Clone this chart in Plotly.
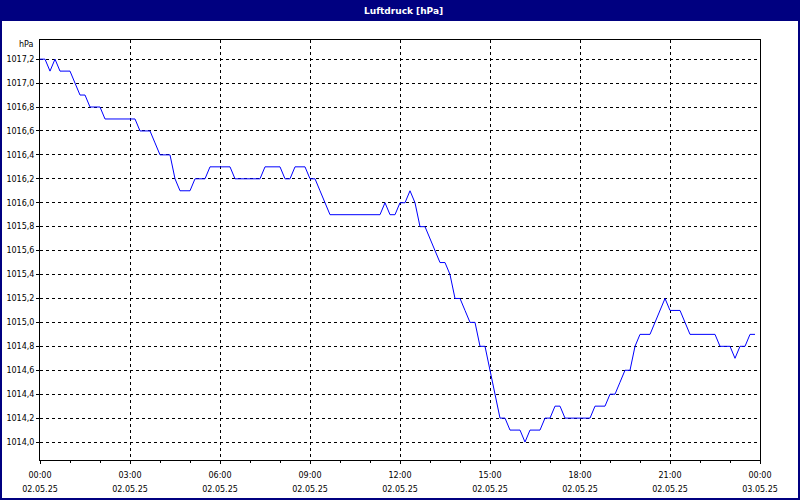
import pandas as pd
import plotly.graph_objects as go

# ---- data (10-minute readings, 02.05.25 00:00 - 23:50) ----
start_time = "2025-05-02 00:00"
end_time = "2025-05-03 00:00"
pressure_hpa = [
    1017.2, 1017.2, 1017.1, 1017.2, 1017.1, 1017.1, 1017.1, 1017.0, 1016.9, 1016.9,
    1016.8, 1016.8, 1016.8, 1016.7, 1016.7, 1016.7, 1016.7, 1016.7, 1016.7, 1016.7,
    1016.6, 1016.6, 1016.6, 1016.5, 1016.4, 1016.4, 1016.4, 1016.2, 1016.1, 1016.1,
    1016.1, 1016.2, 1016.2, 1016.2, 1016.3, 1016.3, 1016.3, 1016.3, 1016.3, 1016.2,
    1016.2, 1016.2, 1016.2, 1016.2, 1016.2, 1016.3, 1016.3, 1016.3, 1016.3, 1016.2,
    1016.2, 1016.3, 1016.3, 1016.3, 1016.2, 1016.2, 1016.1, 1016.0, 1015.9, 1015.9,
    1015.9, 1015.9, 1015.9, 1015.9, 1015.9, 1015.9, 1015.9, 1015.9, 1015.9, 1016.0,
    1015.9, 1015.9, 1016.0, 1016.0, 1016.1, 1016.0, 1015.8, 1015.8, 1015.7, 1015.6,
    1015.5, 1015.5, 1015.4, 1015.2, 1015.2, 1015.1, 1015.0, 1015.0, 1014.8, 1014.8,
    1014.6, 1014.4, 1014.2, 1014.2, 1014.1, 1014.1, 1014.1, 1014.0, 1014.1, 1014.1,
    1014.1, 1014.2, 1014.2, 1014.3, 1014.3, 1014.2, 1014.2, 1014.2, 1014.2, 1014.2,
    1014.2, 1014.3, 1014.3, 1014.3, 1014.4, 1014.4, 1014.5, 1014.6, 1014.6, 1014.8,
    1014.9, 1014.9, 1014.9, 1015.0, 1015.1, 1015.2, 1015.1, 1015.1, 1015.1, 1015.0,
    1014.9, 1014.9, 1014.9, 1014.9, 1014.9, 1014.9, 1014.8, 1014.8, 1014.8, 1014.7,
    1014.8, 1014.8, 1014.9, 1014.9,
]
title_text = "Luftdruck [hPa]"
unit_text = "hPa"
y_range = [1013.85, 1017.36]

times = pd.date_range(start_time, periods=len(pressure_hpa), freq="10min")

NAVY = "#000080"
FONT = "DejaVu Sans"
W, H = 800, 500
ML, MR, MT, MB = 40, 40, 40, 40
PW, PH = W - ML - MR, H - MT - MB


def px_x(p):
    return (p - ML) / PW


def px_y(p):
    return (H - MB - p) / PH


fig = go.Figure()
fig.add_trace(go.Scatter(
    x=times, y=pressure_hpa, mode="lines",
    line=dict(color="#0000FF", width=1),
    xaxis="x", yaxis="y", hoverinfo="skip", showlegend=False,
))
fig.add_trace(go.Scatter(
    x=[times[0]], y=[pressure_hpa[0]], mode="markers",
    marker=dict(opacity=0), xaxis="x2", yaxis="y",
    hoverinfo="skip", showlegend=False,
))

axis_common = dict(
    showline=True, linecolor="black", linewidth=1, mirror=True, automargin=False,
    zeroline=False, tickcolor="black", tickfont=dict(family=FONT, size=8, color="black"),
)

fig.update_layout(
    width=W, height=H, autosize=False,
    margin=dict(l=ML, r=MR, t=MT, b=MB),
    paper_bgcolor="white", plot_bgcolor="white",
    separators=",.",
    hovermode=False,
    showlegend=False,
    xaxis=dict(
        type="date", range=[start_time, end_time],
        tick0=start_time, dtick=3 * 3600000, tickformat="%H:%M",
        ticks="outside", ticklen=3,
        showgrid=True, gridcolor="black", gridwidth=1, griddash="3px,3px",
        minor=dict(dtick=3600000, tick0=start_time, ticks="outside", ticklen=2,
                   tickcolor="black", showgrid=False),
        ticklabelstandoff=4,
        **axis_common,
    ),
    xaxis2=dict(
        type="date", overlaying="x", matches="x", side="bottom", anchor="y",
        range=[start_time, end_time], automargin=False,
        tick0=start_time, dtick=3 * 3600000, tickformat="%d.%m.%y",
        ticks="", showgrid=False, showline=False, zeroline=False,
        ticklabelstandoff=23,
        tickfont=dict(family=FONT, size=8, color="black"),
    ),
    yaxis=dict(
        range=y_range, tick0=1014.0, dtick=0.2, tickformat=".1f",
        ticks="outside", ticklen=3,
        showgrid=True, gridcolor="black", gridwidth=1, griddash="3px,3px",
        **axis_common,
    ),
    shapes=[
        dict(type="rect", xref="paper", yref="paper",
             x0=px_x(0), x1=px_x(W), y0=px_y(21), y1=px_y(0),
             fillcolor=NAVY, line=dict(width=0), layer="above"),
        dict(type="rect", xref="paper", yref="paper",
             x0=px_x(1), x1=px_x(W - 1), y0=px_y(H - 1), y1=px_y(1),
             fillcolor="rgba(0,0,0,0)", line=dict(color=NAVY, width=2), layer="above"),
    ],
    annotations=[
        dict(text="<b>" + title_text + "</b>", xref="paper", yref="paper",
             x=px_x(403), y=px_y(10.5), xanchor="center", yanchor="middle",
             showarrow=False, font=dict(family=FONT, size=9, color="white")),
        dict(text=unit_text, xref="paper", yref="paper",
             x=px_x(36), y=px_y(45), xanchor="right", yanchor="middle",
             showarrow=False, font=dict(family=FONT, size=8, color="black")),
    ],
)

fig.write_html(
    "out.html",
    config={"displayModeBar": False, "responsive": False},
    post_script=(
        "document.documentElement.style.margin='0';"
        "document.documentElement.style.overflow='hidden';"
        "document.body.style.margin='0';"
        "document.body.style.overflow='hidden';"
    ),
)
